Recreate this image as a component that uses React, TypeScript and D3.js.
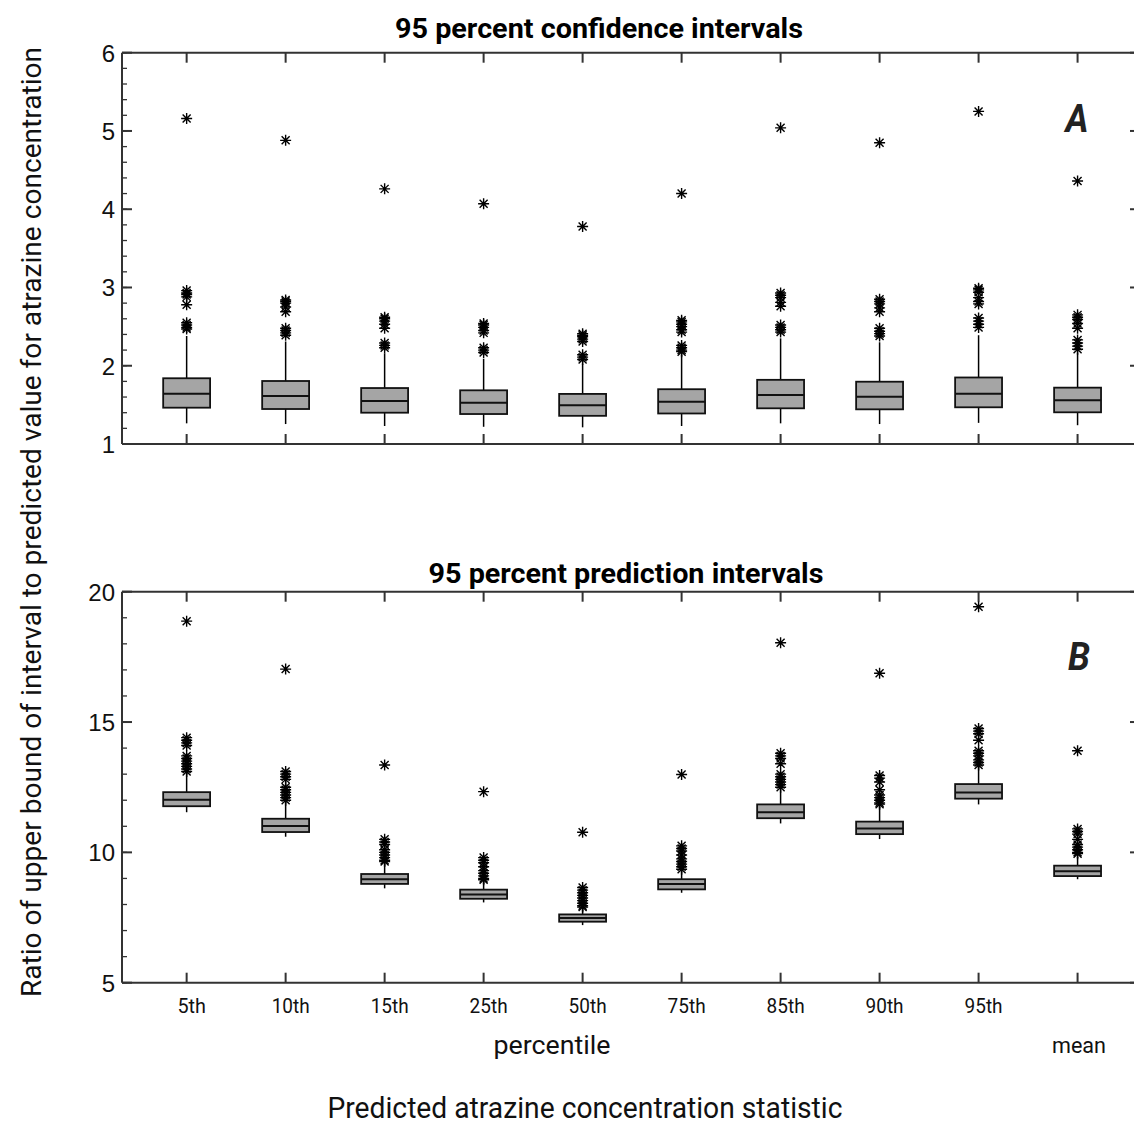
import React from "react";
import * as d3 from "d3";

const width = 1136;
const height = 1128;

const categories = ["5th", "10th", "15th", "25th", "50th", "75th", "85th", "90th", "95th", "mean"];

// panel A: 95 percent confidence intervals
const aQ3 = [1.84, 1.805, 1.715, 1.686, 1.64, 1.7, 1.82, 1.796, 1.85, 1.72];
const aMed = [1.643, 1.613, 1.549, 1.528, 1.494, 1.54, 1.626, 1.604, 1.643, 1.56];
const aQ1 = [1.464, 1.447, 1.4, 1.383, 1.36, 1.39, 1.456, 1.443, 1.469, 1.405];
const aLo = [1.264, 1.255, 1.23, 1.22, 1.213, 1.23, 1.264, 1.255, 1.27, 1.24];
const aHi = [2.38, 2.31, 2.16, 2.09, 2.03, 2.14, 2.35, 2.3, 2.39, 2.17];
const aOut = [
  [5.16, 2.96, 2.93, 2.91, 2.88, 2.78, 2.55, 2.52, 2.49, 2.47],
  [4.88, 2.84, 2.82, 2.8, 2.75, 2.69, 2.48, 2.45, 2.42, 2.39],
  [4.26, 2.62, 2.6, 2.57, 2.53, 2.48, 2.29, 2.26, 2.23],
  [4.07, 2.54, 2.52, 2.49, 2.45, 2.42, 2.23, 2.2, 2.17],
  [3.78, 2.41, 2.39, 2.37, 2.34, 2.31, 2.14, 2.11, 2.08],
  [4.2, 2.58, 2.56, 2.53, 2.5, 2.46, 2.43, 2.26, 2.23, 2.2, 2.18],
  [5.04, 2.93, 2.9, 2.87, 2.81, 2.76, 2.52, 2.49, 2.46, 2.43],
  [4.85, 2.85, 2.82, 2.79, 2.74, 2.69, 2.48, 2.44, 2.41, 2.38],
  [5.25, 2.99, 2.97, 2.94, 2.87, 2.82, 2.79, 2.61, 2.57, 2.53, 2.49],
  [4.36, 2.65, 2.62, 2.59, 2.54, 2.48, 2.33, 2.29, 2.25, 2.21],
];

// panel B: 95 percent prediction intervals
const bQ3 = [12.31, 11.29, 9.17, 8.57, 7.62, 8.97, 11.84, 11.18, 12.62, 9.49];
const bMed = [12.02, 11.01, 8.97, 8.38, 7.48, 8.79, 11.54, 10.92, 12.3, 9.28];
const bQ1 = [11.77, 10.78, 8.79, 8.22, 7.34, 8.58, 11.31, 10.7, 12.06, 9.09];
const bLo = [11.54, 10.6, 8.62, 8.08, 7.21, 8.45, 11.11, 10.51, 11.84, 8.97];
const bHi = [13.03, 12.0, 9.58, 8.87, 7.85, 9.26, 12.39, 11.75, 13.29, 9.83];
const bOut = [
  [18.87, 14.4, 14.3, 14.2, 14.1, 13.7, 13.6, 13.5, 13.4, 13.3, 13.2, 13.1],
  [17.03, 13.1, 13.0, 12.9, 12.8, 12.5, 12.4, 12.3, 12.2, 12.1, 12.0],
  [13.35, 10.5, 10.4, 10.3, 10.1, 10.0, 9.9, 9.8, 9.7, 9.65],
  [12.33, 9.8, 9.7, 9.6, 9.45, 9.3, 9.2, 9.1, 9.0, 8.95],
  [10.77, 8.65, 8.55, 8.45, 8.35, 8.25, 8.15, 8.05, 7.95, 7.9],
  [12.99, 10.25, 10.15, 10.05, 9.9, 9.75, 9.65, 9.55, 9.45, 9.35],
  [18.04, 13.8, 13.7, 13.6, 13.4, 13.0, 12.9, 12.8, 12.7, 12.6, 12.5],
  [16.87, 12.95, 12.85, 12.7, 12.4, 12.2, 12.1, 12.0, 11.9, 11.85],
  [19.42, 14.75, 14.65, 14.55, 14.3, 13.9, 13.8, 13.7, 13.55, 13.45, 13.35],
  [13.9, 10.9, 10.8, 10.7, 10.5, 10.3, 10.2, 10.1, 10.0, 9.95],
];

const aTicks = [1, 2, 3, 4, 5, 6];
const bTicks = [5, 10, 15, 20];

const condensed = "Roboto, 'Noto Sans', sans-serif";
const plain = "'Liberation Sans', Arial, sans-serif";

const left = 122;
const right = 1134;
const x = d3.scaleLinear().domain([0.347, 10.57]).range([left, right]);
const boxHalf = 0.237;

const star = "M-5.5,0H5.5M0,-5.5V5.5M-4,-4L4,4M-4,4L4,-4";

type PanelProps = {
  y: d3.ScaleLinear<number, number>;
  ticks: number[];
  minorStep: number;
  q1: number[];
  med: number[];
  q3: number[];
  lo: number[];
  hi: number[];
  out: number[][];
};

function Panel({ y, ticks, minorStep, q1, med, q3, lo, hi, out }: PanelProps) {
  const [y0, y1] = y.domain();
  const top = y(y1);
  const bottom = y(y0);
  const minor = d3.range(y0, y1 + 1e-9, minorStep);
  const axisColor = "#333";
  return (
    <g>
      {/* frame */}
      <line x1={left} x2={right} y1={top} y2={top} stroke={axisColor} strokeWidth={2} />
      <line x1={left} x2={right} y1={bottom} y2={bottom} stroke={axisColor} strokeWidth={2} />
      <line x1={left} x2={left} y1={top} y2={bottom} stroke={axisColor} strokeWidth={2} />
      {minor.map((v, i) => (
        <line key={"mn" + i} x1={left} x2={left + 5} y1={y(v)} y2={y(v)} stroke={axisColor} strokeWidth={1.3} />
      ))}
      {ticks.map((v) => (
        <g key={"t" + v}>
          <line x1={left} x2={left + 10} y1={y(v)} y2={y(v)} stroke={axisColor} strokeWidth={2} />
          <line x1={right - 4} x2={right} y1={y(v)} y2={y(v)} stroke={axisColor} strokeWidth={2} />
          <text x={115} y={y(v) + 9} textAnchor="end" fontFamily={plain} fontSize={24} fill="#111">
            {v}
          </text>
        </g>
      ))}
      {categories.map((c, i) => (
        <g key={"x" + c}>
          <line x1={x(i + 1)} x2={x(i + 1)} y1={top} y2={top + 10} stroke={axisColor} strokeWidth={2} />
          <line x1={x(i + 1)} x2={x(i + 1)} y1={bottom} y2={bottom - 10} stroke={axisColor} strokeWidth={2} />
        </g>
      ))}
      {/* boxes */}
      {categories.map((c, i) => {
        const cx = x(i + 1);
        const bx0 = x(i + 1 - boxHalf);
        const bx1 = x(i + 1 + boxHalf);
        return (
          <g key={"b" + c}>
            <line x1={cx} x2={cx} y1={y(q3[i])} y2={y(hi[i])} stroke="#000" strokeWidth={1.5} />
            <line x1={cx} x2={cx} y1={y(q1[i])} y2={y(lo[i])} stroke="#000" strokeWidth={1.5} />
            <rect
              x={bx0}
              y={y(q3[i])}
              width={bx1 - bx0}
              height={y(q1[i]) - y(q3[i])}
              fill="#a5a5a5"
              stroke="#111"
              strokeWidth={1.8}
            />
            <line x1={bx0} x2={bx1} y1={y(med[i])} y2={y(med[i])} stroke="#111" strokeWidth={2} />
            {out[i].map((v, j) => (
              <path key={j} d={star} transform={`translate(${cx},${y(v)})`} stroke="#000" strokeWidth={1.4} fill="none" />
            ))}
          </g>
        );
      })}
    </g>
  );
}

export default function App() {
  const yA = d3.scaleLinear().domain([1, 6]).range([444, 52.7]);
  const yB = d3.scaleLinear().domain([5, 20]).range([982.7, 591.7]);
  return (
    <svg
      width={width}
      height={height}
      style={{ position: "absolute", left: 0, top: 0, background: "#fff" }}
    >
      <rect width={width} height={height} fill="#fff" />
      <text x={599} y={38} textAnchor="middle" fontFamily={condensed} fontWeight="bold" fontSize={27}
        textLength={408} lengthAdjust="spacingAndGlyphs" fill="#000">
        95 percent confidence intervals
      </text>
      <text x={626} y={583} textAnchor="middle" fontFamily={condensed} fontWeight="bold" fontSize={27}
        textLength={395} lengthAdjust="spacingAndGlyphs" fill="#000">
        95 percent prediction intervals
      </text>
      <Panel y={yA} ticks={aTicks} minorStep={0.2} q1={aQ1} med={aMed} q3={aQ3} lo={aLo} hi={aHi} out={aOut} />
      <Panel y={yB} ticks={bTicks} minorStep={1} q1={bQ1} med={bMed} q3={bQ3} lo={bLo} hi={bHi} out={bOut} />
      <text x={1077} y={131.7} textAnchor="middle" fontFamily={condensed} fontWeight="bold" fontStyle="italic"
        fontSize={38} textLength={23} lengthAdjust="spacingAndGlyphs" fill="#222">A</text>
      <text x={1079} y={670} textAnchor="middle" fontFamily={condensed} fontWeight="bold" fontStyle="italic"
        fontSize={38} textLength={22} lengthAdjust="spacingAndGlyphs" fill="#222">B</text>
      {categories.slice(0, 9).map((c, i) => (
        <text key={c} x={x(i + 1) + 5} y={1013} textAnchor="middle" fontFamily={condensed} fontSize={21}
          textLength={c.length * 9.5} lengthAdjust="spacingAndGlyphs" fill="#111">
          {c}
        </text>
      ))}
      <text x={552} y={1054} textAnchor="middle" fontFamily={condensed} fontSize={26}
        textLength={117} lengthAdjust="spacingAndGlyphs" fill="#111">percentile</text>
      <text x={1079} y={1053} textAnchor="middle" fontFamily={condensed} fontSize={22}
        textLength={54} lengthAdjust="spacingAndGlyphs" fill="#111">mean</text>
      <text x={585} y={1118} textAnchor="middle" fontFamily={condensed} fontSize={30}
        textLength={515} lengthAdjust="spacingAndGlyphs" fill="#111">
        Predicted atrazine concentration statistic
      </text>
      <text transform="translate(41,522) rotate(-90)" textAnchor="middle" fontFamily={condensed} fontSize={28}
        textLength={950} lengthAdjust="spacingAndGlyphs" fill="#111">
        Ratio of upper bound of interval to predicted value for atrazine concentration
      </text>
    </svg>
  );
}
